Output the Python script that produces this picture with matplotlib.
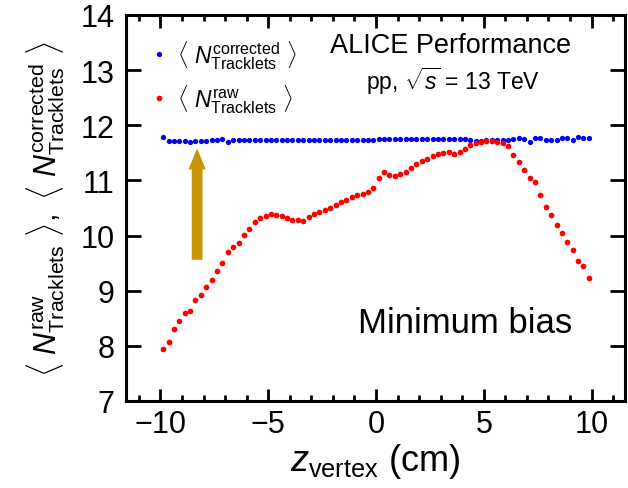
import numpy as np
import matplotlib
matplotlib.use("Agg")
import matplotlib.pyplot as plt
from matplotlib.patches import FancyArrow
from matplotlib.ticker import MultipleLocator

plt.rcParams['font.family'] = ['Liberation Sans', 'DejaVu Sans']
plt.rcParams['mathtext.fontset'] = 'custom'
plt.rcParams['mathtext.rm'] = 'Liberation Sans'
plt.rcParams['mathtext.it'] = 'Liberation Sans:italic'
plt.rcParams['mathtext.bf'] = 'Liberation Sans:bold'
plt.rcParams['mathtext.sf'] = 'Liberation Sans'

# z-vertex bin centres (0.25 cm bins from -10 to 10 cm)
z_vtx = np.arange(-9.875, 10.0, 0.25)

# mean number of tracklets, corrected for the z-vertex dependence
n_corrected = [11.79, 11.72, 11.72, 11.71, 11.71, 11.70, 11.71, 11.71, 11.72, 11.73,
               11.74, 11.75, 11.70, 11.73, 11.73, 11.73, 11.73, 11.73, 11.73, 11.73,
               11.73, 11.74, 11.74, 11.73, 11.73, 11.73, 11.74, 11.74, 11.73, 11.73,
               11.73, 11.73, 11.73, 11.74, 11.74, 11.73, 11.73, 11.74, 11.74, 11.74,
               11.75, 11.75, 11.75, 11.75, 11.75, 11.75, 11.75, 11.75, 11.75, 11.75,
               11.75, 11.75, 11.75, 11.75, 11.75, 11.75, 11.75, 11.74, 11.72, 11.72,
               11.73, 11.74, 11.74, 11.74, 11.74, 11.75, 11.76, 11.75, 11.70, 11.77,
               11.77, 11.74, 11.73, 11.73, 11.76, 11.76, 11.73, 11.79, 11.76, 11.76]

# raw mean number of tracklets
n_raw = [7.94, 8.07, 8.30, 8.45, 8.59, 8.63, 8.83, 8.93, 9.07, 9.19,
         9.35, 9.51, 9.71, 9.79, 9.86, 10.01, 10.12, 10.25, 10.31, 10.35,
         10.39, 10.38, 10.35, 10.32, 10.29, 10.29, 10.27, 10.34, 10.39, 10.43,
         10.47, 10.50, 10.55, 10.61, 10.64, 10.69, 10.73, 10.76, 10.79, 10.87,
         11.04, 11.16, 11.10, 11.08, 11.12, 11.16, 11.23, 11.30, 11.35, 11.39,
         11.44, 11.47, 11.49, 11.52, 11.48, 11.52, 11.56, 11.65, 11.68, 11.70,
         11.71, 11.71, 11.70, 11.67, 11.62, 11.46, 11.33, 11.18, 11.04, 10.97,
         10.74, 10.52, 10.38, 10.19, 10.04, 9.89, 9.73, 9.53, 9.44, 9.23]

fig = plt.figure(figsize=(6.28, 4.89), dpi=100)
ax = fig.add_axes([0.2006, 0.178, 0.7946, 0.7894])

ax.plot(z_vtx, n_corrected, 'o', color='#0000ff', ms=3.8, mew=0,
        label=r'$\langle\ N^{\rm corrected}_{\rm Tracklets}\ \rangle$')
ax.plot(z_vtx, n_raw, 'o', color='#ff0000', ms=4.1, mew=0,
        label=r'$\langle\ N^{\rm raw}_{\rm Tracklets}\ \rangle$')

# arrow showing the correction
ax.add_patch(FancyArrow(-8.3, 9.56, 0, 2.02, width=0.5, head_width=0.8,
                        head_length=0.38, length_includes_head=True,
                        color='#c99508', lw=0))

ax.set_xlim(-11.6, 11.55)
ax.set_ylim(7, 14)
ax.xaxis.set_major_locator(MultipleLocator(5))
ax.xaxis.set_minor_locator(MultipleLocator(1))
ax.yaxis.set_major_locator(MultipleLocator(1))

for s in ax.spines.values():
    s.set_linewidth(2.2)
ax.tick_params(which='both', direction='in', top=True, right=True, width=2.0,
               labelsize=22)
ax.tick_params(axis='x', which='major', length=9, pad=6)
ax.tick_params(axis='x', which='minor', length=4)
ax.tick_params(axis='y', which='major', length=11, pad=8)

ax.set_xlabel(r'$z_{\rm vertex}$ (cm)', fontsize=26, labelpad=1)
ax.set_ylabel(r'$\langle\ N^{\rm raw}_{\rm Tracklets}\ \rangle,\ '
              r'\langle\ N^{\rm corrected}_{\rm Tracklets}\ \rangle$',
              fontsize=22, labelpad=10)

ax.text(3.44, 13.45, 'ALICE Performance', fontsize=19.5, ha='center', va='center')
ax.text(3.58, 12.81, r'pp, $\sqrt{s}$ = 13 TeV', fontsize=16.5, ha='center', va='center')
ax.text(4.13, 8.42, 'Minimum bias', fontsize=25, ha='center', va='center')

ax.legend(loc='upper left', bbox_to_anchor=(0.012, 0.993), frameon=False,
          fontsize=16.5, handlelength=0.6, handletextpad=0.45, labelspacing=0.5,
          borderaxespad=0.5, markerscale=1.0)

fig.savefig('out.png', dpi=100)
